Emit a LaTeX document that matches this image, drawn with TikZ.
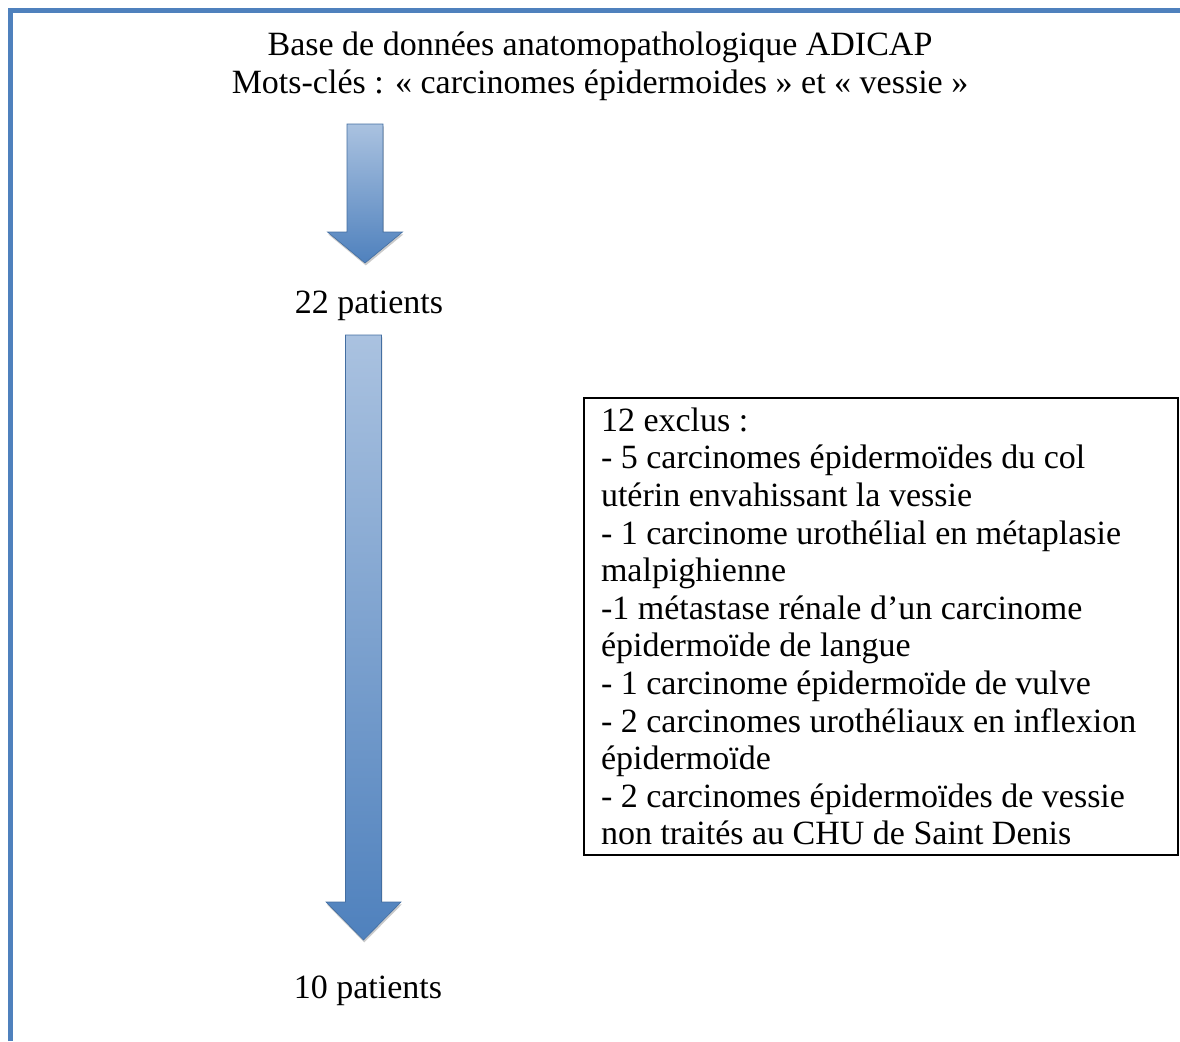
\documentclass[tikz,border=0pt]{standalone}
\usepackage{fontspec}
\setmainfont{Liberation Serif}
\usepackage{tikz}
\usetikzlibrary{calc,shadows}
\definecolor{frame_blue}{RGB}{79,129,189}
\definecolor{arrow_light}{RGB}{170,194,224}
\definecolor{arrow_dark}{RGB}{79,129,189}
\tikzstyle{txt_n} = [align=center, inner sep=0pt, font=\fontsize{17}{18.8}\selectfont]
\tikzstyle{box_x} = [rectangle, draw=black, line width=1pt, align=flush left, inner xsep=8.5pt, inner ysep=0pt, text width=280pt, minimum height=228.5pt, font=\fontsize{17}{18.8}\selectfont]
\tikzstyle{blk_arrow} = [top color=arrow_light, bottom color=arrow_dark, draw=arrow_dark!85!black, line width=0.3pt, drop shadow={shadow xshift=0.4pt, shadow yshift=-1.2pt, opacity=0.35, fill=black!60}]
\newcommand{\blockarrow}[3]{%
  \path[blk_arrow] let \p1=(#1), \p2=(#2) in
    (\x1-9pt,\y1) -- (\x1+9pt,\y1) -- (\x1+9pt,\y2+#3) -- (\x1+18.75pt,\y2+#3)
    -- (\x2,\y2) -- (\x1-18.75pt,\y2+#3) -- (\x1-9pt,\y2+#3) -- cycle;}

\begin{document}
\begin{tikzpicture}[x=0.5pt,y=-0.5pt]
\useasboundingbox (0,0) rectangle (1180,1041);
\draw[frame_blue, line width=2.5pt] (10.5,1041) -- (10.5,10.5) -- (1180,10.5);

\node [txt_n] (base) at (600,66) {Base de données anatomopathologique ADICAP\\
  Mots-clés : « carcinomes épidermoides » et « vessie »};
\node [txt_n] (p22) at (369,306) {22 patients};
\node [txt_n] (p10) at (368,991) {10 patients};
\node [box_x] (exclus) at (881,626.5) {12 exclus :\\
- 5 carcinomes épidermoïdes du col\\
utérin envahissant la vessie\\
- 1 carcinome urothélial en métaplasie\\
malpighienne\\
-1 métastase rénale d’un carcinome\\
épidermoïde de langue\\
- 1 carcinome épidermoïde de vulve\\
- 2 carcinomes urothéliaux en inflexion\\
épidermoïde\\
- 2 carcinomes épidermoïdes de vessie\\
non traités au CHU de Saint Denis};

\coordinate (a1_top) at (365,124);
\coordinate (a1_tip) at (365,263);
\coordinate (a2_top) at (363.5,335);
\coordinate (a2_tip) at (363.5,940);
\blockarrow{a1_top}{a1_tip}{15.5pt}
\blockarrow{a2_top}{a2_tip}{19pt}
\end{tikzpicture}
\end{document}
